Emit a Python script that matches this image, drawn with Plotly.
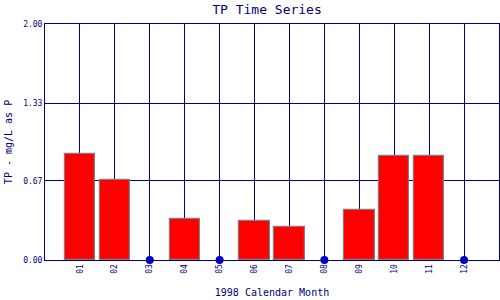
import plotly.graph_objects as go

months = ["01", "02", "03", "04", "05", "06", "07", "08", "09", "10", "11", "12"]
tp_values = [0.90, 0.675, 0.0, 0.345, 0.0, 0.328, 0.277, 0.0, 0.421, 0.879, 0.879, 0.0]
y_ticks = [0.0, 0.67, 1.33, 2.00]
y_ticklabels = ["0.00", "0.67", "1.33", "2.00"]

navy = "#000080"
font_family = "DejaVu Sans Mono"

x_pos = list(range(1, len(months) + 1))
bar_x = [x for x, v in zip(x_pos, tp_values) if v > 0]
bar_y = [v for v in tp_values if v > 0]
zero_x = [x for x, v in zip(x_pos, tp_values) if v == 0]
zero_y = [v for v in tp_values if v == 0]

fig = go.Figure()
fig.add_trace(go.Bar(
    x=bar_x, y=bar_y, width=0.87,
    marker=dict(color="#ff0000", line=dict(color="#808080", width=1.2)),
    showlegend=False,
))
fig.add_trace(go.Scatter(
    x=zero_x, y=zero_y, mode="markers",
    marker=dict(color="#0000cc", size=8),
    cliponaxis=False, showlegend=False,
))

fig.update_layout(
    width=500, height=300,
    margin=dict(l=45, r=1, t=24, b=40),
    plot_bgcolor="white", paper_bgcolor="white",
    font=dict(family=font_family, color=navy),
    title=dict(text="TP Time Series", x=267/500, xanchor="center", y=1 - 9/300, yanchor="middle",
               font=dict(size=13, family=font_family, color=navy)),
    xaxis=dict(
        range=[0, 13], tickvals=x_pos, ticktext=months, tickangle=-90,
        showgrid=True, gridcolor=navy, gridwidth=1,
        showline=True, linecolor=navy, linewidth=1, mirror=True,
        zeroline=False, ticks="",
        tickfont=dict(size=8, family=font_family, color=navy),
        title=dict(text="1998 Calendar Month", font=dict(size=10, family=font_family, color=navy), standoff=16),
    ),
    yaxis=dict(
        range=[0, 2.0], tickvals=y_ticks, ticktext=y_ticklabels,
        showgrid=True, gridcolor=navy, gridwidth=1,
        showline=True, linecolor=navy, linewidth=1, mirror=True,
        zeroline=False, ticks="",
        tickfont=dict(size=8, family=font_family, color=navy),
        title=dict(text="TP - mg/L as P", font=dict(size=10, family=font_family, color=navy), standoff=8),
    ),
    bargap=0,
)

fig.write_html("out.html")
